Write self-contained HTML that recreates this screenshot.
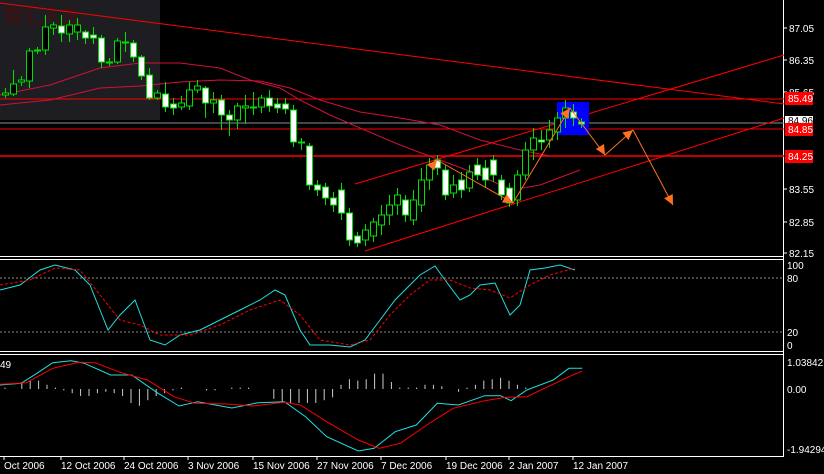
<!DOCTYPE html>
<html><head><meta charset="utf-8"><style>
html,body{margin:0;padding:0;background:#000;width:824px;height:474px;overflow:hidden}
svg{display:block}
text{font-family:"Liberation Sans","Noto Sans CJK SC",sans-serif;font-size:10px;fill:#fff}
</style></head><body>
<svg id="s" width="824" height="474" xmlns="http://www.w3.org/2000/svg">
<rect width="824" height="474" fill="#000"/>
<rect x="0" y="0" width="160" height="120" fill="#1e1e22"/>
<text x="4" y="22" style="font-size:19px;fill:#4a0c0c">智汇人生</text>
<g id="g"></g>
</svg>
<script>
var g=document.getElementById('g'),h='';
function L(x1,y1,x2,y2,c,w,d){h+='<line x1="'+x1+'" y1="'+y1+'" x2="'+x2+'" y2="'+y2+'" stroke="'+c+'" stroke-width="'+(w||1)+'"'+(d?' stroke-dasharray="'+d+'"':'')+'/>';}
function P(pts,c,w,d){h+='<polyline fill="none" points="'+pts.map(function(p){return p.join(',')}).join(' ')+'" stroke="'+c+'" stroke-width="'+(w||1)+'"'+(d?' stroke-dasharray="'+d+'"':'')+'/>';}
function T(x,y,t,a){h+='<text x="'+x+'" y="'+y+'"'+(a?' text-anchor="'+a+'"':'')+'>'+t+'</text>';}
L(0,256.5,784,256.5,'#fff');L(0,259.5,784,259.5,'#fff');
L(0,351.5,784,351.5,'#fff');L(0,354.5,784,354.5,'#fff');
L(0,456.5,784,456.5,'#fff');L(783.5,0,783.5,457,'#fff');
L(0,99,784,99,'#f00');L(0,123,784,123,'#8a8a9a');L(0,129,784,129,'#f00');L(0,156,784,156,'#f00',1.5);
L(0,3,784,104,'#f00');L(355,184,784,55,'#f00');L(365,251,784,118,'#f00');
P([[0,95],[50,85],[100,68],[140,63],[180,63],[220,68],[250,80],[280,88],[300,100],[330,115],[360,128],[400,145],[440,160],[480,175],[510,190],[540,185],[580,170]],'#d0103a');
P([[0,105],[50,100],[100,88],[140,86],[180,82],[220,80],[260,81],[290,88],[320,100],[360,112],[400,118],[440,125],[480,140],[520,150],[550,156]],'#d0103a');
h+='<rect x="557" y="102" width="32" height="33" fill="#0000ff"/>';
var c=[[95,93,88,98],[94,84,70,96],[82,80,76,86],[81,51,48,88],[50,50,47,54],[50,27,15,55],[28,25,22,35],[26,33,15,42],[34,25,20,42],[32,25,18,40],[32,38,30,44],[35,38,27,44],[38,62,35,68],[62,62,58,66],[62,41,38,64],[42,42,32,52],[43,57,40,62],[57,76,55,80],[75,98,68,100],[98,93,90,100],[94,107,82,112],[104,108,98,115],[107,103,96,110],[106,90,82,110],[90,86,80,93],[88,103,86,118],[103,100,92,113],[100,115,95,130],[115,120,110,136],[120,106,103,129],[108,106,95,124],[107,107,92,115],[107,98,95,113],[98,106,90,112],[104,108,98,113],[104,109,98,114],[110,142,105,147],[142,142,138,150],[146,185,143,190],[185,190,180,196],[187,198,183,205],[198,205,192,212],[190,213,183,220],[213,240,208,246],[236,243,232,247],[240,230,224,246],[236,222,218,242],[225,215,205,235],[215,205,195,225],[205,195,188,215],[200,215,195,222],[220,200,190,225],[205,180,168,212],[180,165,158,190],[160,168,155,175],[170,195,165,200],[193,185,175,198],[180,190,172,198],[188,172,165,192],[165,175,158,180],[168,180,160,188],[160,175,155,182],[180,195,175,200],[188,203,183,207],[200,175,170,206],[175,150,142,180],[150,138,128,160],[140,142,130,150],[140,130,120,148],[132,118,112,140],[118,108,100,128],[112,118,104,126],[122,124,118,128]];
for(var i=0;i<c.length;i++){var x=5+i*8,o=c[i][0],cl=c[i][1],hi=c[i][2],lo=c[i][3];
 L(x+.5,hi,x+.5,lo,'#00e000');var t=Math.min(o,cl),b=Math.max(o,cl);
 if(b-t<2){L(x-3,t+.5,x+4,t+.5,'#00e000',2);}
 else h+='<rect x="'+(x-2.5)+'" y="'+t+'" width="6" height="'+(b-t)+'" fill="'+(cl>o?'#fff':'#000')+'" stroke="#00e000" stroke-width="1"/>';}
var O='#ff7020';
P([[437,160],[513,203],[570,108],[605,155],[633,130],[673,205]],O,1);
function A(x1,y1,x2,y2){var a=Math.atan2(y2-y1,x2-x1),s=11;var p=[[x2,y2],[x2-s*Math.cos(a-0.45),y2-s*Math.sin(a-0.45)],[x2-s*Math.cos(a+0.45),y2-s*Math.sin(a+0.45)]];h+='<polygon points="'+p.map(function(q){return q.join(',')}).join(' ')+'" fill="'+O+'"/>';}
A(470,180,513,203);A(540,150,570,108);A(590,130,605,155);A(615,145,633,130);A(655,170,673,205);A(420,180,437,160);
var pl=[[87.05,28],[86.35,60],[85.65,92],[83.55,189],[82.85,222],[82.15,253]];
pl.forEach(function(p){L(783,p[1],787,p[1],'#fff');T(789,p[1]+4,p[0].toFixed(2));});
h+='<rect x="785" y="92" width="28" height="13" fill="#f00"/>';T(788,102,'85.49');
h+='<rect x="785" y="116" width="28" height="9" fill="#fff"/>';h+='<text x="788" y="124" style="fill:#000">84.96</text>';
h+='<rect x="785" y="123" width="28" height="13" fill="#f00"/>';T(788,133,'84.85');
h+='<rect x="785" y="150" width="28" height="13" fill="#f00"/>';T(788,160,'84.25');
L(0,278,784,278,'#888',1,'2,2');L(0,332,784,332,'#888',1,'2,2');
T(787,269,'100');T(787,282,'80');T(787,336,'20');T(787,349,'0');
P([[0,290],[20,285],[40,270],[55,265],[75,270],[90,285],[100,310],[108,330],[120,315],[135,300],[150,340],[165,345],[180,335],[200,330],[220,320],[240,310],[260,300],[275,290],[285,295],[300,330],[310,345],[330,345],[350,347],[365,340],[380,320],[395,300],[405,290],[420,275],[435,266],[445,280],[460,300],[470,295],[480,285],[495,283],[510,315],[520,305],[530,270],[545,268],[560,265],[575,270]],'#20e0e0');
P([[0,285],[30,280],[55,268],[80,270],[100,295],[120,320],[140,325],[160,335],[190,335],[220,325],[250,310],[280,300],[300,315],[320,340],[350,345],[370,340],[390,315],[410,295],[430,280],[450,280],[470,288],[490,290],[510,298],[530,285],[550,275],[575,268]],'#f00',1,'3,2');
T(0,368,'49');T(787,366,'1.03842');T(787,393,'0.00');T(787,453,'-1.94294');
var hv=[1,0,5,6,6,3,1,-1,-3,-5,-5,-3,-2,-3,-5,-10,-12,-8,-5,-3,-1,1,0,0,-1,-1,0,1,1,1,0,0,-7,-10,-10,-10,-10,-10,-8,-6,3,7,6,7,11,11,5,1,1,1,3,3,2,0,-2,1,3,6,7,8,6,3,1];
hv.forEach(function(v,i){var x=5+i*8.4;if(v)L(x,389,x,389-v*1.4,'#ccc');});
function cv(a){return a.map(function(p){return [+(p[0]/1.898).toFixed(1),+(p[1]/3+340).toFixed(1)]});}
P(cv([[0,135],[40,130],[70,100],[100,68],[135,62],[160,70],[210,105],[250,105],[300,160],[340,198],[375,185],[440,204],[490,188],[540,185],[580,230],[620,290],[680,333],[710,325],[750,275],[790,255],[830,190],[870,195],[920,167],[950,167],[970,182],[1000,150],[1050,120],[1080,85],[1105,85]]),'#20e0e0');
P(cv([[0,133],[50,128],[100,85],[150,67],[180,68],[230,98],[280,120],[330,170],[370,190],[430,192],[480,198],[540,187],[570,195],[620,245],[680,300],[720,325],[760,310],[810,255],[860,205],[920,182],[960,172],[1000,170],[1040,140],[1080,110],[1105,93]]),'#f00');
var d=[['Oct 2006',4],['12 Oct 2006',61],['24 Oct 2006',124],['3 Nov 2006',188],['15 Nov 2006',253],['27 Nov 2006',317],['7 Dec 2006',381],['19 Dec 2006',446],['2 Jan 2007',509],['12 Jan 2007',573]];
d.forEach(function(p){L(p[1],456,p[1],460,'#fff');T(p[1],469,p[0]);});
g.innerHTML=h;
</script>
</body></html>
